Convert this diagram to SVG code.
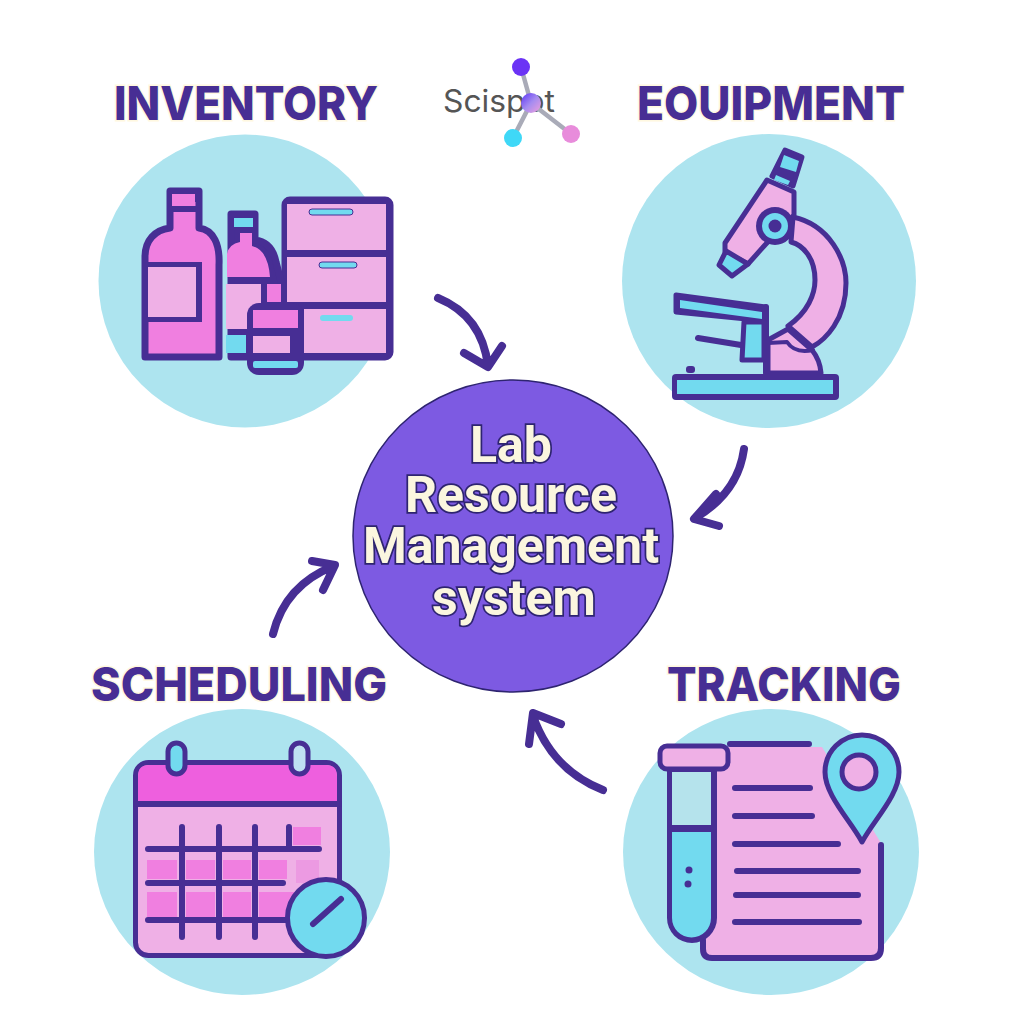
<svg xmlns="http://www.w3.org/2000/svg" width="1024" height="1024" viewBox="0 0 1024 1024">
<defs>
<linearGradient id="hub" x1="0" y1="0" x2="1" y2="1"><stop offset="0" stop-color="#5B33F5"/><stop offset="0.5" stop-color="#A58CF0"/><stop offset="1" stop-color="#F0A0DC"/></linearGradient>
</defs>
<style>
.bg{fill:#ADE4EF}
.o{stroke:#472E94;stroke-width:7;stroke-linejoin:round;stroke-linecap:round}
.t{stroke:#472E94;stroke-width:5;stroke-linejoin:round;stroke-linecap:round}
.l{fill:none;stroke:#472E94;stroke-width:6;stroke-linecap:round;stroke-linejoin:round}
.p{fill:#EFB0E6}
.h{fill:#F07FE0}
.b{fill:#72DAEF}
.d{fill:#472E94}
.title{font-family:Inter,"Liberation Sans",Arial,sans-serif;font-weight:800;font-size:47px;fill:#472E94;stroke:#FFF8E0;stroke-width:3;paint-order:stroke;text-anchor:middle}
.center{font-family:Roboto,"Liberation Sans",sans-serif;font-weight:700;font-size:50px;fill:#FBF6DF;stroke:#2E2470;stroke-width:3.5;paint-order:stroke;text-anchor:middle}
.arrow{fill:none;stroke:#472E94;stroke-width:8;stroke-linecap:round;stroke-linejoin:round}
</style>
<rect width="1024" height="1024" fill="#FFFFFF"/>

<g id="logo">
<text x="443" y="112" font-family="Inter,'Liberation Sans',sans-serif" font-size="31" fill="#555555" textLength="112" lengthAdjust="spacingAndGlyphs">Scispot</text>
<path d="M521 67L531 103L513 138M531 103L571 134" fill="none" stroke="#A9ABB8" stroke-width="4.500"/>
<circle cx="521" cy="67" r="9" fill="#6B33F5"/>
<circle cx="531" cy="103" r="10" fill="url(#hub)"/>
<circle cx="513" cy="138" r="9" fill="#3FD8F7"/>
<circle cx="571" cy="134" r="9" fill="#E88CDB"/>
</g>

<g id="connectors">
<path class="arrow" d="M438 298Q482 316 488 366M464 353L488 367L502 346"/>
<path class="arrow" d="M744 449Q738 493 695 518M716 494L694 519L719 526"/>
<path class="arrow" d="M273 634Q285 585 334 566M312 561L335 565L323 590"/>
<path class="arrow" d="M603 790Q552 770 533 716M529 744L533 713L561 724"/>
</g>

<g id="center-node">
<ellipse cx="513" cy="536" rx="160" ry="156" fill="#7D5AE2" stroke="#2E2470" stroke-width="1.500"/>
<text class="center" x="511" y="462">Lab</text>
<text class="center" x="511" y="512">Resource</text>
<text class="center" x="511" y="563">Management</text>
<text class="center" x="514" y="615">system</text>
</g>

<g id="inventory">
<text class="title" x="246" y="120" textLength="264" lengthAdjust="spacingAndGlyphs">INVENTORY</text>
<circle class="bg" cx="245" cy="281" r="146.500"/>
<rect class="o" x="285" y="200" width="105" height="157" rx="5" fill="#472E94"/>
<rect class="p" x="287" y="204" width="99" height="46"/>
<rect class="p" x="287" y="257" width="99" height="45"/>
<rect class="p" x="304" y="309" width="82" height="44"/>
<rect class="b" stroke="#472E94" x="309" y="209" width="44" height="6" rx="3"/>
<rect class="b" stroke="#472E94" x="319" y="262" width="38" height="6" rx="3"/>
<rect class="b" x="320" y="315" width="33" height="6" rx="3"/>
<path class="o" fill="#472E94" d="M231 357V214H255V240Q272 242 276 262L282 285V357Z"/>
<path class="h" d="M227 277V254Q229 244 240 242V233H252V246Q268 250 270 277Z"/>
<rect class="b" x="234" y="218" width="19" height="9"/>
<rect class="p" x="226" y="284" width="35" height="45"/>
<rect class="h" x="267" y="284" width="14" height="18"/>
<rect class="b" x="226" y="335" width="20" height="18"/>
<path class="o" fill="#F07FE0" d="M145 357V257C145 240 155 230 170 228V191H199V228C214 230 220 245 219 265V357Z"/>
<rect class="d" x="170" y="190" width="29" height="12"/>
<rect class="h" x="172" y="194" width="23" height="12"/>
<rect class="d" x="170" y="206" width="29" height="6"/>
<rect class="d" x="144" y="262" width="58" height="60"/>
<rect class="p" x="148" y="267" width="48" height="50"/>
<rect class="d" x="247" y="303" width="57" height="72" rx="12"/>
<rect class="h" x="253" y="310" width="45" height="18"/>
<rect class="p" x="253" y="336" width="37" height="17"/>
<rect class="b" x="253" y="361" width="45" height="7" rx="2"/>
</g>

<g id="equipment">
<text class="title" x="771" y="120" textLength="268" lengthAdjust="spacingAndGlyphs">EOUIPMENT</text>
<circle class="bg" cx="769" cy="281" r="147"/>
<path class="t" fill="#EFB0E6" d="M793 217C830 225 846 260 846 283C846 320 825 340 812 347L788 326C808 312 815 294 815 280C815 258 803 245 791 242Z"/>
<path class="t" fill="#EFB0E6" d="M768 373V340L788 329L812 350Q820 360 821 373Z"/>
<path class="l" style="stroke-width:4" d="M768 343L787 342Q795 354 813 350"/>
<path class="t" fill="#EFB0E6" d="M767 180L794 192L794 215L765 245L748 264L725 252L725 243Z"/>
<path class="t" fill="#72DAEF" d="M726 251L748 264L732 276L719 265Z"/>
<path class="t" fill="#472E94" d="M785 150L802 157L793 186L772 176Z"/>
<path class="b" d="M784 155L799 161L796 172L780 167Z"/>
<path class="b" d="M776 175L790 181L788 185L774 180Z"/>
<circle class="d" cx="775" cy="226" r="19"/>
<circle class="b" cx="775" cy="226" r="13"/>
<circle class="d" cx="775" cy="226" r="6.500"/>
<path class="t" fill="#472E94" d="M676 295L766 307V321L676 312Z"/>
<path class="b" d="M680 300L762 312V319L680 308Z"/>
<path class="l" d="M766 307V373"/>
<path class="t" fill="#72DAEF" d="M744 322H764V360H742Z"/>
<path class="l" d="M698 338L741 345"/>
<rect class="d" x="686" y="366" width="9" height="7" rx="3"/>
<rect class="d" x="672" y="374" width="167" height="26" rx="4"/>
<rect class="b" x="677" y="380" width="156" height="14"/>
</g>

<g id="scheduling">
<text class="title" x="239" y="701" textLength="296" lengthAdjust="spacingAndGlyphs">SCHEDULING</text>
<ellipse class="bg" cx="242" cy="852" rx="148" ry="143"/>
<rect class="t" x="135.500" y="762.500" width="204" height="193" rx="13" fill="#EFB0E6"/>
<path d="M138 802V776Q138 765 149 765H326Q337 765 337 776V802Z" fill="#EE5FDE"/>
<path class="l" d="M136 804H339"/>
<rect class="t" x="168" y="743" width="17" height="31" rx="8.500" fill="#72DAEF"/>
<rect class="t" x="291" y="743" width="17" height="31" rx="8.500" fill="#BFE0F2"/>
<g class="h">
<rect x="293" y="827" width="28" height="18"/>
<rect x="147" y="860" width="30" height="19"/><rect x="186" y="860" width="29" height="19"/><rect x="223" y="860" width="28" height="19"/><rect x="259" y="860" width="28" height="19"/>
<rect x="147" y="892" width="30" height="25"/><rect x="186" y="892" width="29" height="25"/><rect x="223" y="892" width="28" height="25"/><rect x="259" y="892" width="40" height="25"/>
</g>
<rect x="296" y="860" width="23" height="23" fill="#EC9AE2"/>
<path class="l" d="M182 827V937M219 827V937M255 827V937M289 827V849M148 849H319M148 883H283M148 920H293"/>
<circle class="t" cx="326" cy="918" r="38.500" fill="#72DAEF"/>
<path class="l" d="M313 924L341 899"/>
</g>

<g id="tracking">
<text class="title" x="784" y="701" textLength="234" lengthAdjust="spacingAndGlyphs">TRACKING</text>
<ellipse class="bg" cx="771" cy="852" rx="148" ry="143"/>
<path class="p" d="M725 747H822L881 843V950Q881 955 876 955H702V770H725Z"/>
<path class="l" d="M730 744H809M881 845V948Q881 958 871 958H712Q703 958 703 949V940"/>
<path class="d" d="M667 766V918A25 25 0 0 0 717 918V766Z"/>
<rect x="672" y="772" width="39" height="53" fill="#B5E3EC"/>
<path class="b" d="M672 832H711V918A19.500 19.500 0 0 1 672 918Z"/>
<circle class="d" cx="689" cy="870" r="3.500"/><circle class="d" cx="688" cy="884" r="3.500"/>
<rect class="t" x="660" y="746" width="68" height="23" rx="7" fill="#EFB0E6"/>
<path class="l" d="M735 788H810M735 816H812M735 844H838M737 871H858M736 895H858M735 922H859"/>
<path class="t" fill="#72DAEF" d="M862 842C850 820 825 795 825 772A37 37 0 0 1 899 772C899 795 874 820 862 842Z"/>
<circle class="t" cx="859" cy="772" r="17" fill="#EFB0E6"/>
</g>
</svg>
